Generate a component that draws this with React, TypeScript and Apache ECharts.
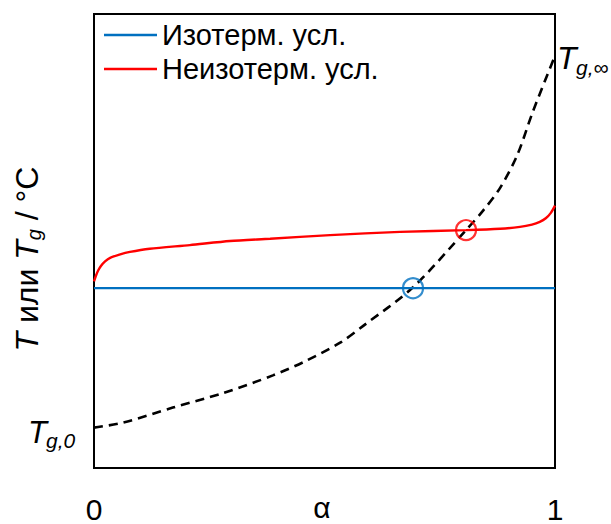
import React, { useEffect, useRef } from "react";
import * as echarts from "echarts";

// Isothermal conditions (constant temperature)
const alphaIso = [0, 1];
const tIso = [39.6, 39.6];

// Non-isothermal conditions
const alphaNonIso = [0, 0.004, 0.009, 0.015, 0.024, 0.035, 0.055, 0.078, 0.121, 0.208, 0.295, 0.382, 0.512, 0.664, 0.807, 0.881, 0.924, 0.95, 0.967, 0.98, 0.991, 1];
const tNonIso = [41.1, 42.3, 43.5, 44.5, 45.5, 46.3, 47.0, 47.6, 48.3, 49.1, 50.0, 50.5, 51.3, 52.0, 52.4, 52.7, 53.1, 53.6, 54.2, 55.0, 56.2, 57.8];

// Glass transition temperature Tg(alpha)
const alphaTg = [0, 0.063, 0.171, 0.28, 0.388, 0.462, 0.534, 0.584, 0.692, 0.807, 0.844, 0.881, 0.918, 0.952, 1];
const tTg = [8.9, 10.0, 13.3, 16.5, 20.4, 23.7, 27.6, 31.3, 39.8, 52.4, 56.7, 61.7, 68.9, 78.5, 90.8];

// Vitrification points
const vitIso = [0.692, 39.6];
const vitNonIso = [0.807, 52.4];

const xTicks = [0, 1];
const legendNames = ["Изотерм. усл.", "Неизотерм. усл."];

const FONT = "'Liberation Sans', Arial, sans-serif";

export default function App() {
  const ref = useRef<HTMLDivElement>(null);
  useEffect(() => {
    if (!ref.current) return;
    const chart = echarts.init(ref.current, null, { renderer: "svg" });
    const zip = (a: number[], b: number[]) => a.map((v, i) => [v, b[i]]);
    const txt = (extra: any) => ({
      fill: "#000",
      fontFamily: FONT,
      align: "left",
      verticalAlign: "middle",
      textAlign: "left",
      textVerticalAlign: "middle",
      ...extra,
    });
    chart.setOption({
      animation: false,
      backgroundColor: "#fff",
      grid: {
        left: 94,
        right: 56,
        top: 14,
        bottom: 50,
        show: true,
        borderColor: "#000",
        borderWidth: 2,
      },
      legend: {
        data: legendNames,
        orient: "vertical",
        left: 104,
        top: 19,
        padding: 0,
        icon: "rect",
        itemWidth: 53,
        itemHeight: 2.4,
        itemGap: 2,
        textStyle: { fontSize: 29, fontFamily: FONT, color: "#000", lineHeight: 32 },
      },
      xAxis: {
        type: "value",
        min: xTicks[0],
        max: xTicks[xTicks.length - 1],
        interval: 1,
        axisLine: { show: false },
        axisTick: { show: false },
        splitLine: { show: false },
        axisLabel: { fontSize: 30, fontFamily: FONT, color: "#000", margin: 26 },
      },
      yAxis: {
        type: "value",
        min: 0,
        max: 100,
        axisLine: { show: false },
        axisTick: { show: false },
        splitLine: { show: false },
        axisLabel: { show: false },
      },
      series: [
        {
          name: legendNames[0],
          type: "line",
          data: zip(alphaIso, tIso),
          symbol: "none",
          lineStyle: { color: "#0070C0", width: 2.2 },
          itemStyle: { color: "#0070C0" },
          z: 3,
        },
        {
          name: legendNames[1],
          type: "line",
          data: zip(alphaNonIso, tNonIso),
          symbol: "none",
          smooth: 0.25,
          lineStyle: { color: "#FF0000", width: 2.4 },
          itemStyle: { color: "#FF0000" },
          z: 3,
        },
        {
          name: "Tg",
          type: "line",
          data: zip(alphaTg, tTg),
          symbol: "none",
          smooth: 0.3,
          lineStyle: { color: "#000", width: 2.6, type: [9, 6] },
          z: 2,
        },
        {
          name: "vitIso",
          type: "scatter",
          data: [vitIso],
          symbol: "circle",
          symbolSize: 20,
          itemStyle: { color: "rgba(0,0,0,0)", borderColor: "#0070C0", borderWidth: 2.2 },
          z: 4,
        },
        {
          name: "vitNonIso",
          type: "scatter",
          data: [vitNonIso],
          symbol: "circle",
          symbolSize: 20,
          itemStyle: { color: "rgba(0,0,0,0)", borderColor: "#FF0000", borderWidth: 2.2 },
          z: 4,
        },
      ],
      graphic: [
        {
          type: "text",
          x: 322,
          y: 507,
          style: txt({ text: "α", fontSize: 30, align: "center", textAlign: "center" }),
        },
        {
          type: "text",
          x: 27,
          y: 259,
          rotation: Math.PI / 2,
          style: {
            text: "{t|T}{n| или }{t|T}{s|g}{n| / °C}",
            fill: "#000",
            align: "center",
            verticalAlign: "middle",
            textAlign: "center",
            textVerticalAlign: "middle",
            rich: {
              t: { fontSize: 32, fontStyle: "italic", fontFamily: FONT, lineHeight: 34, fill: "#000" },
              n: { fontSize: 32, fontFamily: FONT, lineHeight: 34, fill: "#000" },
              s: { fontSize: 20, fontStyle: "italic", fontFamily: FONT, lineHeight: 12, verticalAlign: "bottom", fill: "#000" },
            },
          },
        },
        { type: "text", x: 28, y: 432, style: txt({ text: "T", fontSize: 31, fontStyle: "italic" }) },
        { type: "text", x: 46, y: 440, style: txt({ text: "g,0", fontSize: 21, fontStyle: "italic" }) },
        { type: "text", x: 557, y: 58, style: txt({ text: "T", fontSize: 32, fontStyle: "italic" }) },
        { type: "text", x: 576, y: 67, style: txt({ text: "g,∞", fontSize: 21, fontStyle: "italic" }) },
      ],
    });
    return () => chart.dispose();
  }, []);
  return (
    <div
      ref={ref}
      style={{ position: "fixed", left: 0, top: 0, width: 611, height: 524 }}
    />
  );
}
